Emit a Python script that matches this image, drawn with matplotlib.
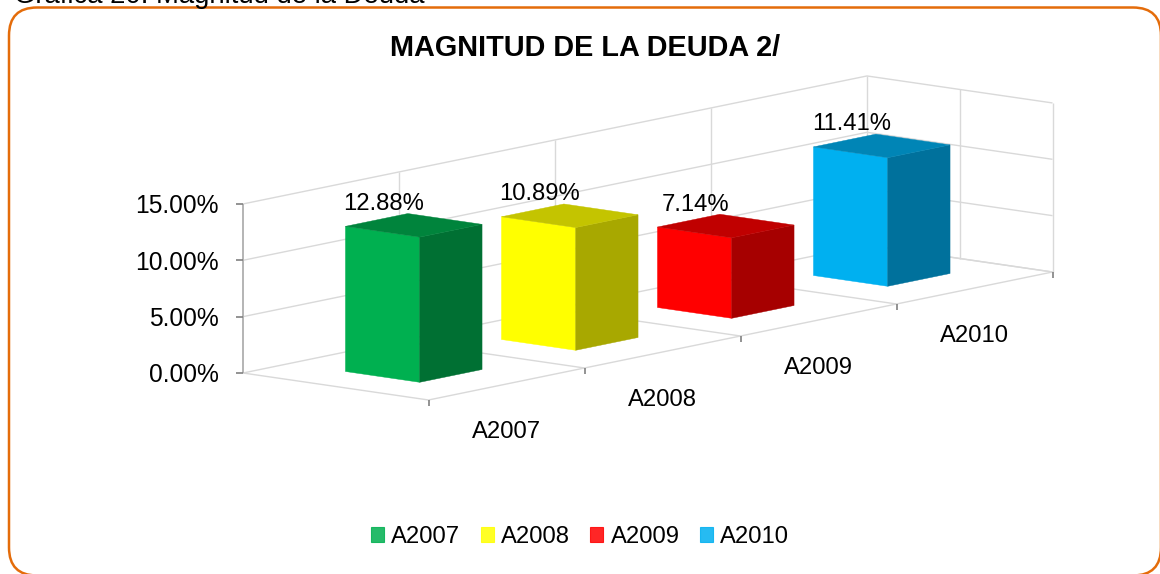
import matplotlib
matplotlib.use("Agg")
import matplotlib.pyplot as plt
from matplotlib.patches import Polygon, Patch, FancyBboxPatch

plt.rcParams['font.family'] = ['Liberation Sans', 'DejaVu Sans']

# data
categories = ["A2007", "A2008", "A2009", "A2010"]
values = [12.88, 10.89, 7.14, 11.41]
value_ticks = [0, 5, 10, 15]
tick_labels = ["0.00%", "5.00%", "10.00%", "15.00%"]
face_colors = ["#00B050", "#FFFF00", "#FF0000", "#00B0F0"]
side_colors = ["#007033", "#A8A800", "#A60000", "#00719C"]
top_colors = ["#00843C", "#C4C400", "#C00000", "#0085B6"]

# oblique projection of the 3d chart box, in pixels
ORIGIN = (243.0, 373.0)
CAT_STEP = (156.0, -32.0)
DEPTH_STEP = (185.5, 27.0)
PX_PER_PCT = 11.27
GRID = "#D9D9D9"
AXIS = "#B4B4B4"
TICK = "#808080"
FS = 17.2


def project(c, d, v):
    x = ORIGIN[0] + c * CAT_STEP[0] + d * DEPTH_STEP[0]
    y = ORIGIN[1] + c * CAT_STEP[1] + d * DEPTH_STEP[1] - v * PX_PER_PCT
    return x, y


def line(ax, p, q, color=GRID, lw=1.0, z=1):
    ax.plot([p[0], q[0]], [p[1], q[1]], color=color, lw=lw, zorder=z, solid_capstyle="butt")


fig = plt.figure(figsize=(11.6, 5.74), dpi=100)
ax = fig.add_axes([0, 0, 1, 1])
ax.set_xlim(0, 1160)
ax.set_ylim(574, 0)
ax.axis("off")

# outer frame
frame = FancyBboxPatch((9, 7.5), 1152, 568, boxstyle="round,pad=0,rounding_size=28",
                       fc="white", ec="#E46C0A", lw=1.8, zorder=0)
ax.add_patch(frame)

n = len(categories)
top = value_ticks[-1]

# walls and floor
for v in value_ticks:
    line(ax, project(0, 0, v), project(n, 0, v))
    line(ax, project(n, 0, v), project(n, 1, v))
for k in range(1, n + 1):
    line(ax, project(k, 0, 0), project(k, 0, top))
for d in [0.5, 1]:
    line(ax, project(n, d, 0), project(n, d, top))
for k in range(n + 1):
    line(ax, project(k, 0, 0), project(k, 1, 0))
line(ax, project(0, 1, 0), project(n, 1, 0))

# value axis
line(ax, project(0, 0, 0), project(0, 0, top), color=AXIS, lw=1.4, z=2)
for v, lab in zip(value_ticks, tick_labels):
    x, y = project(0, 0, v)
    line(ax, (x - 7, y), (x, y), color=TICK, lw=1.2, z=2)
    ax.text(x - 24, y + 2.5, lab, ha="right", va="center", fontsize=17.7, color="black")

# category axis
for k in range(n + 1):
    x, y = project(k, 1, 0)
    line(ax, (x, y), (x, y + 6), color=TICK, lw=1.2, z=2)
for k, cat in enumerate(categories):
    x, y = project(k + 0.5, 1, 0)
    ax.text(x, y + 48, cat, ha="center", va="center", fontsize=FS, color="black")

# bars, back to front
c0, c1, d0, d1 = 0.3, 0.7, 0.3, 0.7
for k in range(n - 1, -1, -1):
    v = values[k]
    z = 3 + (n - k)
    face = [project(k + c0, d0, 0), project(k + c0, d1, 0), project(k + c0, d1, v), project(k + c0, d0, v)]
    side = [project(k + c0, d1, 0), project(k + c1, d1, 0), project(k + c1, d1, v), project(k + c0, d1, v)]
    roof = [project(k + c0, d0, v), project(k + c0, d1, v), project(k + c1, d1, v), project(k + c1, d0, v)]
    ax.add_patch(Polygon(face, fc=face_colors[k], ec=face_colors[k], lw=0.3, zorder=z))
    ax.add_patch(Polygon(side, fc=side_colors[k], ec=side_colors[k], lw=0.3, zorder=z))
    ax.add_patch(Polygon(roof, fc=top_colors[k], ec=top_colors[k], lw=0.3, zorder=z))

# data labels
for k, v in enumerate(values):
    x, y = project(k + 0.5, 0.5, v)
    ax.text(x - 30, y - 21.5, "%.2f%%" % v, ha="center", va="center", fontsize=FS, color="black", zorder=10)

ax.text(585, 47.5, "MAGNITUD DE LA DEUDA 2/", ha="center", va="center", fontsize=20.8,
        fontweight="bold", color="black")
ax.text(14, 3, "Gráfica 20. Magnitud de la Deuda", ha="left", va="baseline", fontsize=19.8, color="black")

handles = [Patch(fc=c, ec=c, lw=0.8, alpha=0.85, label=cat) for c, cat in zip(face_colors, categories)]
ax.legend(handles=handles, ncol=4, loc="center", bbox_to_anchor=(580, 537),
          bbox_transform=ax.transData, frameon=False, fontsize=FS, handlelength=0.55,
          handleheight=0.55, handletextpad=0.3, columnspacing=0.85, borderpad=0, borderaxespad=0)

fig.savefig("out.png", dpi=100)
